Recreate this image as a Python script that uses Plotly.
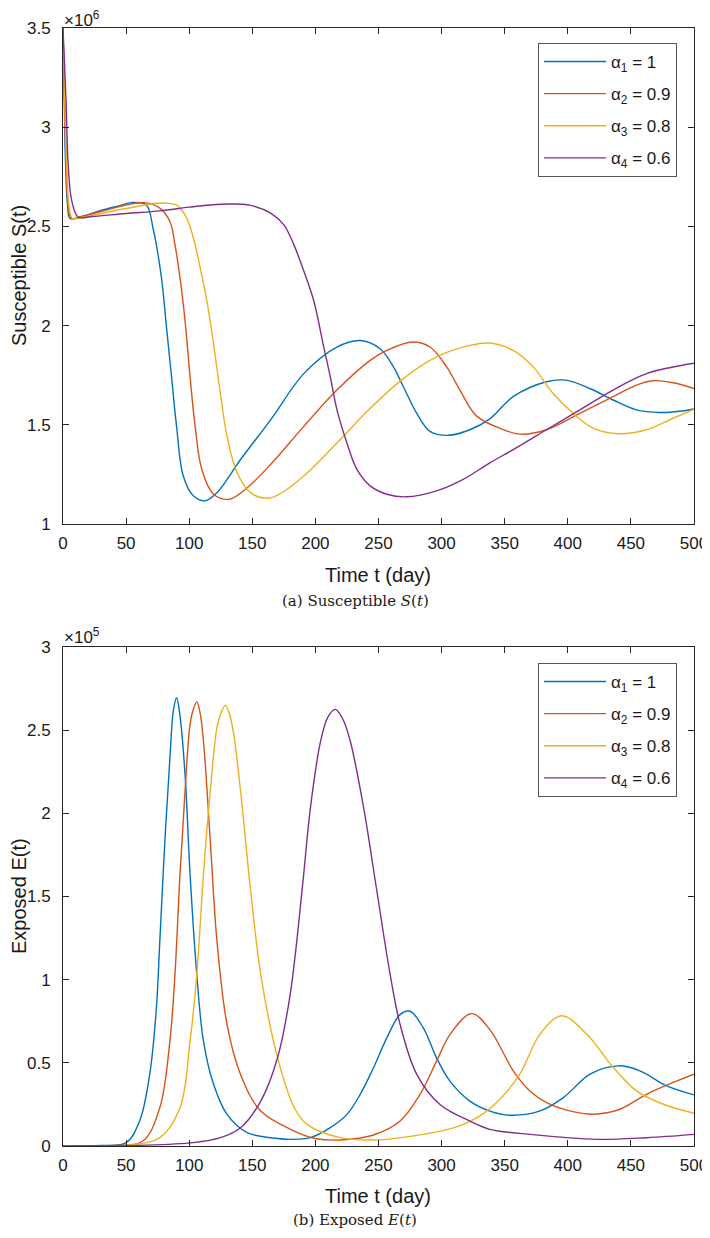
import plotly.graph_objects as go

W, H = 710, 1238
OFF = 8  # the page body adds an 8px margin around the figure

# ---- data (S in units of 1e6, E in units of 1e5) ----
labels = ["α<sub>1</sub> = 1", "α<sub>2</sub> = 0.9", "α<sub>3</sub> = 0.8", "α<sub>4</sub> = 0.6"]
colors = ["#0072BD", "#D95319", "#EDB120", "#7E2F8E"]

t_s1 = [0, 1, 2.1, 3.7, 5.5, 15, 30, 45, 54, 66, 71.3, 78, 82, 86, 90, 95.3, 103.3, 112.7, 122, 140.7,
        164.5, 190.8, 217, 235.5, 251.3, 261.8, 269.7, 280.3, 290.8, 305.3, 322.4, 338.2, 356.7, 383.1,
        398.4, 417.4, 435.9, 454.4, 472.9, 488.7, 500]
s1 = [3.5, 3.14, 2.8, 2.6, 2.54, 2.55, 2.58, 2.605, 2.62, 2.608, 2.492, 2.242, 1.992, 1.742, 1.492, 1.242,
      1.142, 1.117, 1.158, 1.325, 1.525, 1.758, 1.892, 1.925, 1.883, 1.792, 1.692, 1.558, 1.467, 1.447,
      1.475, 1.53, 1.642, 1.717, 1.725, 1.683, 1.625, 1.575, 1.562, 1.568, 1.58]

t_s2 = [0, 1.2, 2.5, 4.2, 6.5, 15, 30, 45, 64.7, 76.7, 84.7, 88.7, 92.7, 96.7, 100.7, 104.7, 110, 119.3,
        132.1, 146, 164.5, 190.8, 217, 243.4, 256.6, 277.1, 290.8, 304, 314.5, 327.6, 346, 362, 383.1,
        409.5, 435.9, 454.4, 467.6, 483.5, 500]
s2 = [3.5, 3.14, 2.8, 2.6, 2.54, 2.55, 2.575, 2.6, 2.62, 2.592, 2.525, 2.408, 2.242, 2.025, 1.742, 1.492,
      1.275, 1.15, 1.125, 1.183, 1.30, 1.492, 1.675, 1.825, 1.875, 1.917, 1.892, 1.792, 1.675, 1.545,
      1.483, 1.453, 1.475, 1.558, 1.642, 1.70, 1.722, 1.712, 1.683]

t_s3 = [0, 1.4, 2.9, 4.8, 7.5, 15, 30, 50, 74, 82, 90, 98, 103.3, 108.7, 114, 119.3, 124.7, 130, 138,
        148.7, 162, 172.7, 190.8, 217, 243.4, 269.7, 296, 322.4, 338.2, 356.7, 372.5, 388.4, 404.2,
        420.1, 439.9, 462.4, 483.5, 500]
s3 = [3.5, 3.14, 2.8, 2.6, 2.54, 2.545, 2.565, 2.59, 2.617, 2.617, 2.608, 2.542, 2.442, 2.292, 2.125,
      1.908, 1.658, 1.442, 1.258, 1.158, 1.13, 1.155, 1.242, 1.408, 1.583, 1.733, 1.842, 1.90, 1.912,
      1.875, 1.792, 1.658, 1.558, 1.483, 1.455, 1.475, 1.533, 1.578]

t_s4 = [0, 2.4, 4.2, 6.9, 12.1, 23.3, 50, 76.7, 100, 116.7, 132.7, 148, 164.5, 175, 182.9, 190.8, 198.7,
        206.6, 211.8, 217.1, 225, 232.9, 243.4, 256.6, 272.4, 296, 317.1, 338.2, 356.7, 383.1, 409.5,
        435.9, 462.4, 500]
s4 = [3.5, 3.137, 2.8, 2.63, 2.547, 2.55, 2.565, 2.578, 2.597, 2.608, 2.613, 2.607, 2.567, 2.508, 2.408,
      2.275, 2.125, 1.892, 1.742, 1.575, 1.408, 1.275, 1.192, 1.15, 1.137, 1.167, 1.225, 1.308, 1.375,
      1.475, 1.575, 1.675, 1.758, 1.81]

t_e1 = [0, 30, 50, 60.7, 68.7, 74, 76.7, 80.7, 84.7, 87.5, 90, 92.5, 96.7, 100.7, 106, 111.3, 119.3, 130,
        146, 170, 180.3, 196, 211.8, 225, 235.5, 246, 256.6, 267.1, 275, 285.5, 296, 306.6, 322.4, 338.2,
        355.5, 378, 396.5, 417.6, 440, 457.2, 478.4, 500]
e1 = [0, 0.003, 0.02, 0.15, 0.43, 0.83, 1.23, 1.83, 2.33, 2.62, 2.695, 2.6, 2.234, 1.633, 1.032, 0.631,
      0.371, 0.19, 0.08, 0.045, 0.04, 0.05, 0.11, 0.19, 0.31, 0.47, 0.65, 0.79, 0.81, 0.71, 0.53, 0.39,
      0.27, 0.21, 0.185, 0.211, 0.291, 0.432, 0.482, 0.452, 0.361, 0.307]

t_e2 = [0, 40, 63.3, 76.7, 84.7, 88.7, 92.7, 96.7, 100.7, 103.5, 106, 108.5, 111.3, 116.7, 122, 130, 140.7,
        156.7, 183.3, 200, 219.7, 246, 267.1, 282.9, 296, 306.6, 323.7, 338.2, 356.8, 370, 383.2, 401.7,
        420.2, 441.3, 462.4, 483.5, 500]
e2 = [0, 0.003, 0.03, 0.23, 0.63, 1.03, 1.633, 2.134, 2.535, 2.63, 2.67, 2.61, 2.435, 1.834, 1.232, 0.73,
      0.43, 0.21, 0.09, 0.045, 0.036, 0.066, 0.15, 0.31, 0.51, 0.67, 0.796, 0.70, 0.452, 0.331, 0.261,
      0.211, 0.191, 0.221, 0.311, 0.382, 0.432]

t_e3 = [0, 50, 76.7, 92.7, 100.7, 106, 111.3, 116.7, 122, 125.5, 128.7, 131.8, 135.3, 140.7, 148.7, 156.7,
        170, 183.3, 193.4, 219.7, 246, 285.5, 310, 330, 346, 362, 378, 395.1, 414.9, 436, 454.5,
        475.7, 500]
e3 = [0, 0.004, 0.05, 0.23, 0.63, 1.032, 1.633, 2.134, 2.515, 2.61, 2.649, 2.6, 2.475, 2.134, 1.533,
      1.032, 0.531, 0.23, 0.13, 0.05, 0.036, 0.07, 0.11, 0.18, 0.28, 0.432, 0.673, 0.783, 0.673, 0.472,
      0.331, 0.251, 0.197]

t_e4 = [0, 60, 103.3, 124.7, 140.7, 156.7, 170, 180, 190, 196, 204, 210, 215.8, 221.5, 227.6, 238.2,
        248.7, 259.2, 267.1, 280.3, 298.7, 322.4, 338.2, 370, 422.8, 462.4, 500]
e4 = [0, 0.004, 0.02, 0.05, 0.11, 0.27, 0.531, 0.91, 1.58, 2.03, 2.43, 2.58, 2.625, 2.57, 2.435, 2.034,
      1.533, 1.032, 0.731, 0.431, 0.25, 0.15, 0.10, 0.07, 0.04, 0.05, 0.07]

s_t = [t_s1, t_s2, t_s3, t_s4]
s_v = [s1, s2, s3, s4]
e_t = [t_e1, t_e2, t_e3, t_e4]
e_v = [e1, e2, e3, e4]

x_ticks = list(range(0, 501, 50))
s_ticks = [1, 1.5, 2, 2.5, 3, 3.5]
e_ticks = [0, 0.5, 1, 1.5, 2, 2.5, 3]

# ---- figure ----
FONT = "Liberation Sans, Arial, sans-serif"
SERIF = "DejaVu Serif, serif"
AXC = "#262626"
TXT = "#1a1a1a"

fig = go.Figure()
for i in range(4):
    fig.add_trace(go.Scatter(x=s_t[i], y=s_v[i], mode="lines", name=labels[i],
                             line=dict(color=colors[i], width=1.4, shape="spline", smoothing=1.0),
                             xaxis="x", yaxis="y", legend="legend", legendgroup=f"a{i}"))
for i in range(4):
    fig.add_trace(go.Scatter(x=e_t[i], y=e_v[i], mode="lines", name=labels[i],
                             line=dict(color=colors[i], width=1.4, shape="spline", smoothing=1.0),
                             xaxis="x2", yaxis="y2", legend="legend2", legendgroup=f"b{i}"))


def px_x(p):
    return (p - OFF) / W


def px_y(p):
    return 1 - (p - OFF) / H


x_dom = [px_x(63), px_x(694)]
top_dom = [px_y(524), px_y(28)]
bot_dom = [px_y(1146), px_y(647)]

axis_common = dict(showgrid=False, zeroline=False, showline=True, linecolor=AXC, linewidth=1,
                   mirror="ticks", ticks="inside", ticklen=6, tickcolor=AXC, automargin=False,
                   tickfont=dict(family=FONT, size=17, color=TXT))

legend_common = dict(xanchor="right", yanchor="top", bgcolor="white", bordercolor="#555555",
                     borderwidth=1, font=dict(family=FONT, size=17, color=TXT),
                     tracegroupgap=7, itemwidth=62)

fig.update_layout(
    width=W, height=H,
    margin=dict(l=0, r=0, t=0, b=0, autoexpand=False),
    paper_bgcolor="white", plot_bgcolor="white",
    showlegend=True,
    xaxis=dict(domain=x_dom, range=[0, 500], tickvals=x_ticks, anchor="y", ticklabelstandoff=4,
               **axis_common),
    yaxis=dict(domain=top_dom, range=[1, 3.5], tickvals=s_ticks, anchor="x", ticklabelstandoff=8,
               **axis_common),
    xaxis2=dict(domain=x_dom, range=[0, 500], tickvals=x_ticks, anchor="y2", ticklabelstandoff=4,
                **axis_common),
    yaxis2=dict(domain=bot_dom, range=[0, 3], tickvals=e_ticks, anchor="x2", ticklabelstandoff=8,
                **axis_common),
    legend=dict(x=px_x(677), y=px_y(43), **legend_common),
    legend2=dict(x=px_x(677), y=px_y(663), **legend_common),
)


def note(text, x, y, size, family=FONT, angle=0, xa="center", ya="middle"):
    return dict(text=text, x=px_x(x), y=px_y(y), xref="paper", yref="paper", xanchor=xa, yanchor=ya,
                textangle=angle, showarrow=False, font=dict(family=family, size=size, color=TXT))


ann = [
    note("×10<sup>6</sup>", 62, 19, 17, xa="left"),
    note("×10<sup>5</sup>", 62, 636, 17, xa="left"),
    note("Susceptible S(t)", 19, 276, 20, angle=-90),
    note("Exposed E(t)", 19, 896, 20, angle=-90),
    note("Time t (day)", 378, 575, 20),
    note("Time t (day)", 378, 1196, 20),
    note("(a) Susceptible <i>S</i>(<i>t</i>)", 355, 601, 15, family=SERIF),
    note("(b) Exposed <i>E</i>(<i>t</i>)", 355, 1220, 15, family=SERIF),
]
fig.update_layout(annotations=ann)

fig.write_html("out.html")
